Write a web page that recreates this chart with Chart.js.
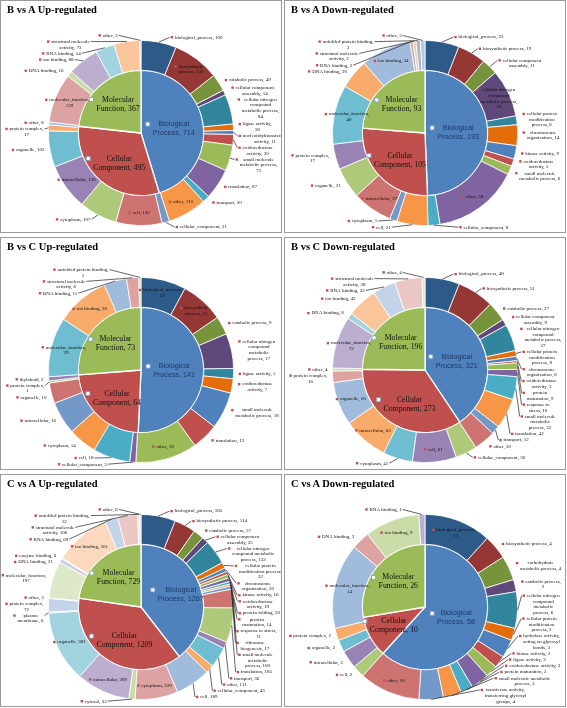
<!DOCTYPE html>
<html>
<head>
<meta charset="utf-8">
<script src="https://cdn.jsdelivr.net/npm/chart.js@4.4.1/dist/chart.umd.min.js"></script>
<style>
  body { margin: 0; background: #fff; }
  #wrap { position: relative; width: 567px; height: 708px; }
  .panel { position: absolute; width: 280px; height: 231px; border: 1px solid #9a9a9a; background: #fff; }
  .panel canvas { position: absolute; left: 0; top: 0; }
  .panel h2 { position: absolute; left: 6px; top: 3px; margin: 0; font: bold 10.5px 'Liberation Serif', serif; color: #000; z-index: 2; }
</style>
</head>
<body>
<div id="wrap"></div>
<script>
// categorias del circulo interior
const categories = ['Biological Process', 'Cellular Component', 'Molecular Function'];

// B vs A Up-regulated
const baUpTotals = [714, 495, 367];
const baUpTerms = ['biological_process', 'biosynthetic process', 'catabolic process', 'cellular component assembly',
  'cellular nitrogen compound metabolic process', 'ligase activity', 'nucleotidyltransferase activity',
  'oxidoreductase activity', 'small molecule metabolic process', 'translation', 'transport', 'other',
  'cellular_component', 'cell', 'cytoplasm', 'intracellular', 'organelle', 'protein complex', 'other',
  'molecular_function', 'DNA binding', 'ion binding', 'RNA binding', 'structural molecule activity', 'other'];
const baUpCounts = [100, 132, 49, 14, 84, 18, 11, 30, 73, 87, 20, 110,
  21, 130, 107, 130, 102, 17, 8,
  139, 16, 88, 54, 73, 3];

// B vs A Down-regulated
const baDownTotals = [193, 105, 93];
const baDownTerms = ['biological_process', 'biosynthetic process', 'cellular component assembly',
  'cellular nitrogen compound metabolic process', 'cellular protein modification process', 'chromosome organization',
  'kinase activity', 'oxidoreductase activity', 'small molecule metabolic process', 'other',
  'cellular_component', 'cell', 'cytoplasm', 'intracellular', 'organelle', 'protein complex',
  'molecular_function', 'DNA binding', 'ion binding', 'RNA binding', 'structural molecule activity',
  'unfolded protein binding', 'other'];
const baDownCounts = [23, 19, 11, 32, 6, 14, 9, 5, 6, 58,
  8, 21, 5, 27, 21, 17,
  40, 20, 34, 2, 2, 3, 3];

// B vs C Up-regulated
const bcUpTotals = [141, 64, 73];
const bcUpTerms = ['biological_process', 'biosynthetic process', 'catabolic process',
  'cellular nitrogen compound metabolic process', 'ligase activity', 'oxidoreductase activity',
  'small molecule metabolic process', 'translation', 'other',
  'cellular_component', 'cell', 'cytoplasm', 'intracellular', 'organelle', 'protein complex', 'thylakoid',
  'molecular_function', 'ion binding', 'RNA binding', 'structural molecule activity', 'unfolded protein binding'];
const bcUpCounts = [22, 21, 9, 17, 5, 7, 18, 13, 30,
  3, 18, 14, 16, 10, 1, 2,
  29, 26, 11, 6, 1];

// B vs C Down-regulated
const bcDownTotals = [321, 273, 196];
const bcDownTerms = ['biological_process', 'biosynthetic process', 'catabolic process', 'cellular component assembly',
  'cellular nitrogen compound metabolic process', 'cellular protein modification process', 'chromosome organization',
  'oxidoreductase activity', 'protein maturation', 'response to stress', 'small molecule metabolic process',
  'translation', 'transport', 'other',
  'cellular_component', 'cell', 'cytoplasm', 'intracellular', 'organelle', 'protein complex', 'other',
  'molecular_function', 'DNA binding', 'ion binding', 'RNA binding', 'structural molecule activity', 'other'];
const bcDownCounts = [48, 51, 27, 9, 37, 8, 6, 3, 9, 10, 32, 42, 12, 30,
  30, 61, 41, 63, 60, 16, 4,
  72, 8, 42, 32, 38, 4];

// C vs A Up-regulated
const caUpTotals = [1267, 1209, 729];
const caUpTerms = ['biological_process', 'biosynthetic process', 'catabolic process', 'cellular component assembly',
  'cellular nitrogen compound metabolic process', 'cellular protein modification process', 'chromosome organization',
  'kinase activity', 'oxidoreductase activity', 'protein folding', 'protein maturation', 'response to stress',
  'ribosome biogenesis', 'small molecule metabolic process', 'translation', 'transport', 'other',
  'cellular_component', 'cell', 'cytoplasm', 'cytosol', 'intracellular', 'organelle', 'plasma membrane',
  'protein complex', 'other',
  'molecular_function', 'DNA binding', 'enzyme binding', 'ion binding', 'RNA binding',
  'structural molecule activity', 'unfolded protein binding', 'other'];
const caUpCounts = [185, 114, 57, 35, 132, 32, 20, 16, 19, 20, 14, 11, 17, 100, 185, 36, 111,
  43, 189, 229, 33, 289, 381, 6, 72, 3,
  197, 21, 6, 301, 69, 106, 12, 6];

// C vs A Down-regulated
const caDownTotals = [58, 10, 26];
const caDownTerms = ['biological_process', 'biosynthetic process', 'carbohydrate metabolic process', 'catabolic process',
  'cellular nitrogen compound metabolic process', 'cellular protein modification process',
  'hydrolase activity, acting on glycosyl bonds', 'kinase activity', 'ligase activity', 'oxidoreductase activity',
  'protein maturation', 'small molecule metabolic process', 'transferase activity, transferring glycosyl groups', 'other',
  'cell', 'intracellular', 'organelle', 'protein complex',
  'molecular_function', 'DNA binding', 'ion binding', 'RNA binding'];
const caDownCounts = [11, 4, 4, 2, 6, 2, 3, 2, 2, 3, 2, 3, 4, 10,
  2, 3, 2, 2,
  14, 3, 9, 1];

const panels = [
  { title: 'B vs A Up-regulated', totals: baUpTotals, terms: baUpTerms, counts: baUpCounts },
  { title: 'B vs A Down-regulated', totals: baDownTotals, terms: baDownTerms, counts: baDownCounts },
  { title: 'B vs C Up-regulated', totals: bcUpTotals, terms: bcUpTerms, counts: bcUpCounts },
  { title: 'B vs C Down-regulated', totals: bcDownTotals, terms: bcDownTerms, counts: bcDownCounts },
  { title: 'C vs A Up-regulated', totals: caUpTotals, terms: caUpTerms, counts: caUpCounts },
  { title: 'C vs A Down-regulated', totals: caDownTotals, terms: caDownTerms, counts: caDownCounts }
];

// colores tipo Office
const innerColours = ['#4F81BD', '#C0504D', '#9BBB59'];
const shades = [
  ['#2E5A8A', '#953735', '#77933C', '#5F497A', '#31859C', '#E46C0A'],
  ['#4F81BD', '#C0504D', '#9BBB59', '#8064A2', '#4BACC6', '#F79646'],
  ['#7399C9', '#CD7371', '#AFC97A', '#9983B5', '#6FBDD1', '#F9AB6B'],
  ['#A1BBDC', '#DCA3A2', '#CADCA8', '#BBAECF', '#A2D3E1', '#FBC59C'],
  ['#C3D3E8', '#EAC6C5', '#DDE8C9', '#D3CAE1', '#C4E4ED', '#FCD9BE']
];
function ringColour(i) {
  return shades[Math.min(4, Math.floor(i / 6))][i % 6];
}

function wrap(ctx, text, maxW) {
  const words = text.split(' ');
  const lines = [];
  let cur = '';
  for (const w of words) {
    const t = cur ? cur + ' ' + w : w;
    if (cur && ctx.measureText(t).width > maxW) { lines.push(cur); cur = w; }
    else cur = t;
  }
  if (cur) lines.push(cur);
  return lines;
}

// dibuja bloque de texto con el cuadrito rojo delante
function drawBlock(ctx, left, top, lines, lh, mark) {
  const widths = lines.map(l => ctx.measureText(l).width);
  const tw = Math.max(...widths);
  const tx = left + mark + 1.8;
  if (mark) {
    ctx.fillStyle = '#C0504D';
    ctx.fillRect(left, top + lh / 2 - mark / 2, mark, mark);
  }
  ctx.fillStyle = '#111';
  ctx.textAlign = 'left';
  ctx.textBaseline = 'middle';
  lines.forEach((l, j) => ctx.fillText(l, tx + (tw - widths[j]) / 2, top + lh * j + lh / 2));
  return mark + 1.8 + tw;
}

const goLabels = {
  id: 'goLabels',
  afterDatasetsDraw(chart) {
    const ctx = chart.ctx;
    const W = chart.width, H = chart.height;
    const ds0 = chart.data.datasets[0];
    const LH = 5.6, MK = 2.4;
    ctx.save();
    ctx.font = "5px 'Liberation Serif'";
    const sides = { left: [], right: [] };
    chart.getDatasetMeta(0).data.forEach((arc, i) => {
      const p = arc.getProps(['x', 'y', 'startAngle', 'endAngle', 'innerRadius', 'outerRadius'], true);
      const a = (p.startAngle + p.endAngle) / 2;
      const span = p.endAngle - p.startAngle;
      const text = ds0.names[i] + ', ' + ds0.data[i];
      if (span > 0.42) {
        const rm = (p.innerRadius + p.outerRadius) / 2 + 2;
        const lines = wrap(ctx, text, 40);
        const w = MK + 1.8 + Math.max(...lines.map(l => ctx.measureText(l).width));
        const lx = p.x + rm * Math.cos(a), ly = p.y + rm * Math.sin(a);
        drawBlock(ctx, lx - w / 2, ly - lines.length * LH / 2, lines, LH, MK);
      } else {
        const right = Math.cos(a) >= 0;
        const r = p.outerRadius + 5;
        const px = p.x + r * Math.cos(a), py = p.y + r * Math.sin(a);
        const avail = right ? W - 4 - px - MK - 2 : px - 4 - MK - 2;
        const lines = wrap(ctx, text, Math.max(28, Math.min(52, avail)));
        sides[right ? 'right' : 'left'].push({
          px, py, lines, h: lines.length * LH, r, cx: p.x, cy: p.y,
          ex: p.x + p.outerRadius * Math.cos(a), ey: p.y + p.outerRadius * Math.sin(a)
        });
      }
    });
    for (const k of ['left', 'right']) {
      const L = sides[k].sort((m, n) => m.py - n.py);
      let prev = 15;
      L.forEach(l => {
        let top = l.py - l.h / 2;
        if (top < prev + 0.6) top = prev + 0.6;
        l.top = top; prev = top + l.h;
      });
      let limit = H - 2;
      for (let j = L.length - 1; j >= 0; j--) {
        const l = L[j];
        if (l.top + l.h > limit) l.top = limit - l.h;
        limit = l.top - 0.6;
      }
      L.forEach(l => {
        const t = l.top - l.cy, b = l.top + l.h - l.cy;
        const dy = (t < 0 && b > 0) ? 0 : Math.min(Math.abs(t), Math.abs(b));
        const minDx = Math.sqrt(Math.max(0, l.r * l.r - dy * dy));
        const yc = l.top + LH / 2;
        const widths = l.lines.map(s => ctx.measureText(s).width);
        const w = MK + 1.8 + Math.max(...widths);
        let x;
        if (k === 'right') x = Math.max(l.px, l.cx + minDx);
        else x = Math.min(l.px, l.cx - minDx);
        if (Math.abs(l.top + l.h / 2 - l.py) > 4 || Math.abs(x - l.px) > 4) {
          ctx.strokeStyle = '#222';
          ctx.lineWidth = 0.7;
          ctx.beginPath();
          ctx.moveTo(l.ex, l.ey);
          ctx.lineTo(k === 'right' ? x - 1 : x + 1, yc);
          ctx.stroke();
        }
        drawBlock(ctx, k === 'right' ? x : x - w, l.top, l.lines, LH, MK);
      });
    }
    // etiquetas del circulo interior
    const ds1 = chart.data.datasets[1];
    chart.getDatasetMeta(1).data.forEach((arc, i) => {
      const p = arc.getProps(['x', 'y', 'startAngle', 'endAngle', 'outerRadius'], true);
      const a = (p.startAngle + p.endAngle) / 2;
      const span = p.endAngle - p.startAngle;
      const rr = p.outerRadius * (span > 2.5 ? 0.48 : 0.62);
      const lx = p.x + rr * Math.cos(a), ly = p.y + rr * Math.sin(a);
      const bp = i === 0;
      ctx.font = bp ? "7.2px 'Liberation Sans'" : "7.8px 'Liberation Serif'";
      const lines = wrap(ctx, ds1.names[i] + ', ' + ds1.data[i], 58);
      const widths = lines.map(s => ctx.measureText(s).width);
      const tw = Math.max(...widths);
      const lh = 9;
      const left = lx - (tw + 6) / 2, top = ly - lines.length * lh / 2;
      ctx.fillStyle = '#fff';
      ctx.strokeStyle = '#7F9CC0';
      ctx.lineWidth = 0.8;
      ctx.fillRect(left - 1, top + lh / 2 - 2, 4, 4);
      ctx.strokeRect(left - 1, top + lh / 2 - 2, 4, 4);
      ctx.fillStyle = bp ? '#1F3A64' : '#111';
      ctx.textAlign = 'left';
      ctx.textBaseline = 'middle';
      lines.forEach((s, j) => ctx.fillText(s, left + 6 + (tw - widths[j]) / 2, top + lh * j + lh / 2));
    });
    ctx.restore();
  }
};

const wrapDiv = document.getElementById('wrap');
panels.forEach((pn, idx) => {
  const div = document.createElement('div');
  div.className = 'panel';
  div.style.left = (idx % 2 ? 284 : 0) + 'px';
  div.style.top = (Math.floor(idx / 2) * 237) + 'px';
  const h = document.createElement('h2');
  h.textContent = pn.title;
  const cv = document.createElement('canvas');
  cv.width = 280; cv.height = 231;
  div.appendChild(cv);
  div.appendChild(h);
  wrapDiv.appendChild(div);

  new Chart(cv.getContext('2d'), {
    type: 'doughnut',
    data: {
      labels: pn.terms,
      datasets: [
        {
          data: pn.counts,
          names: pn.terms,
          backgroundColor: pn.counts.map((v, i) => ringColour(i)),
          borderColor: '#fff',
          borderWidth: 0.8,
          weight: 30
        },
        {
          data: pn.totals,
          names: categories,
          backgroundColor: innerColours,
          borderColor: '#fff',
          borderWidth: 1.3,
          weight: 63
        }
      ]
    },
    options: {
      responsive: false,
      animation: false,
      cutout: 0,
      events: [],
      layout: { padding: { left: 47, right: 47, top: 39, bottom: 6 } },
      plugins: { legend: { display: false }, tooltip: { enabled: false } }
    },
    plugins: [goLabels]
  });
});
</script>
</body>
</html>
